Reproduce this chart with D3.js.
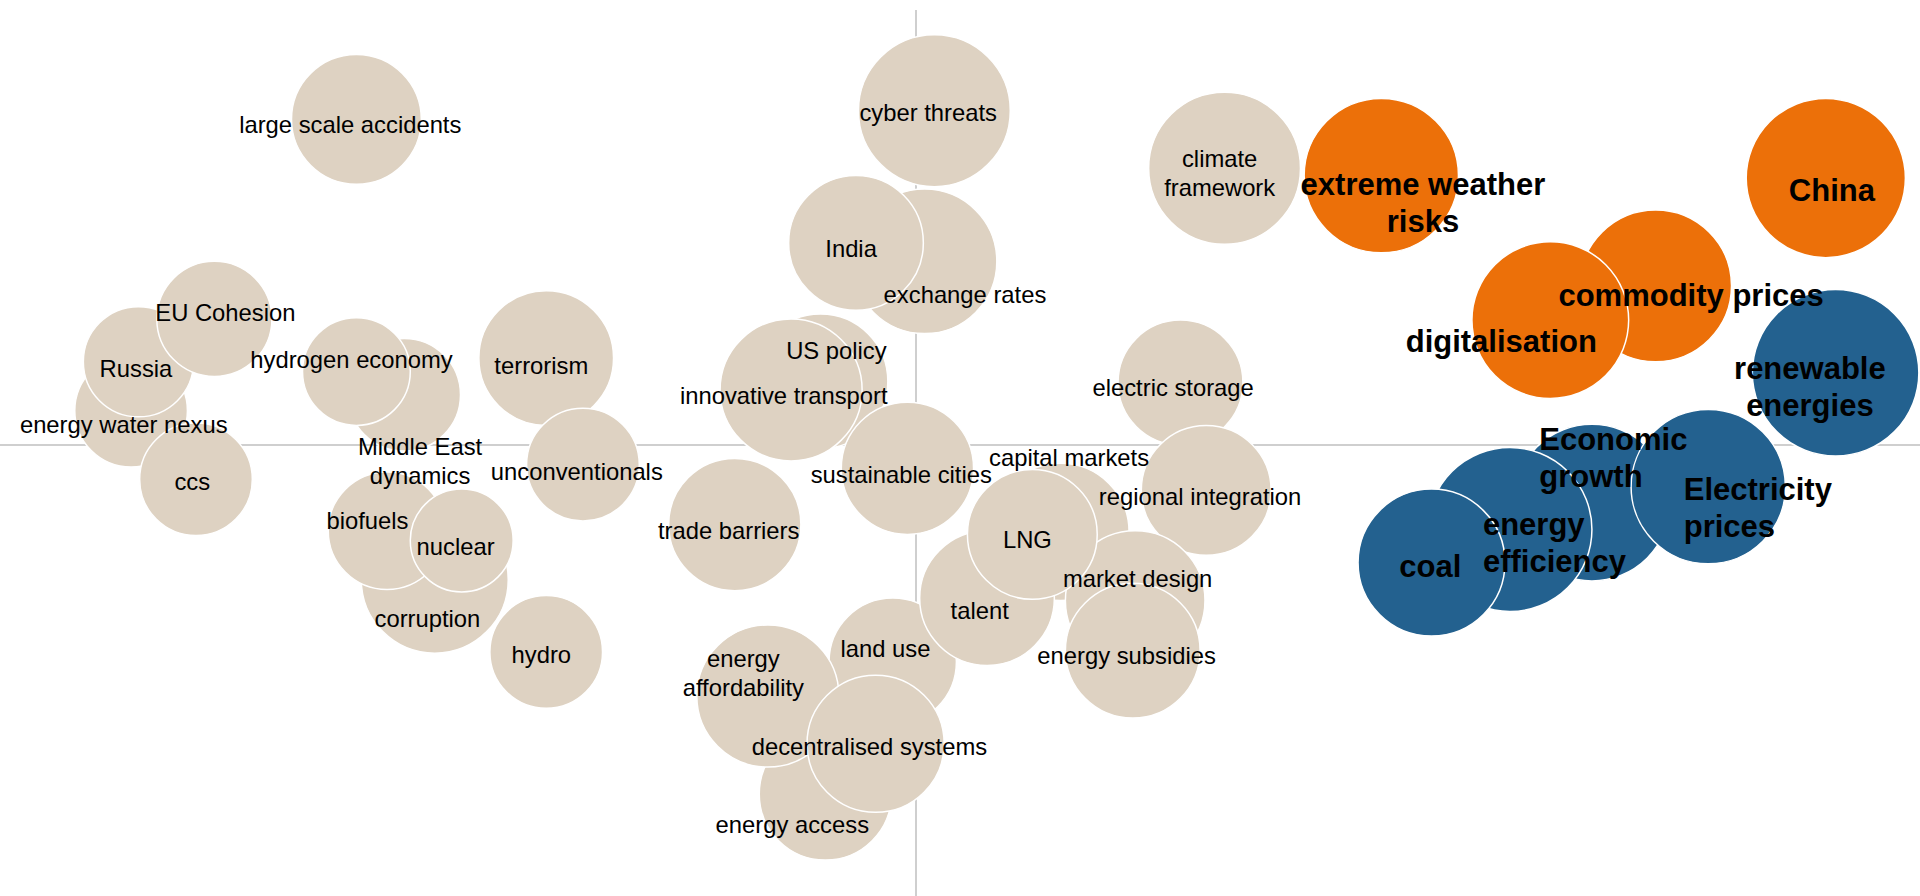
<!DOCTYPE html>
<html><head><meta charset="utf-8">
<script src="https://cdn.jsdelivr.net/npm/d3@7"></script>
<style>html,body{margin:0;padding:0;background:#fff;overflow:hidden}svg{display:block}</style>
</head><body><svg id="c" width="1920" height="896"></svg>
<script>
// Items in drawing order (back to front)
const names = ["large scale accidents","cyber threats","exchange rates","India","US policy","innovative transport","sustainable cities",
"climate\nframework","extreme weather\nrisks","China","commodity prices","digitalisation","renewable\nenergies",
"Economic\ngrowth","energy\nefficiency","coal","Electricity\nprices",
"energy water nexus","Russia","EU Cohesion","ccs","Middle East\ndynamics","hydrogen economy","terrorism","unconventionals",
"corruption","biofuels","nuclear","hydro","trade barriers","electric storage","regional integration","capital markets",
"land use","talent","market design","LNG","energy subsidies","energy access","energy\naffordability","decentralised systems"];
const groups = ["n","n","n","n","n","n","n","n","o","o","o","o","b","b","b","b","b",
"n","n","n","n","n","n","n","n","n","n","n","n","n","n","n","n","n","n","n","n","n","n","n","n"];
// uncertainty (x) and impact (y), bubble size
const xVals = [-4.57,0.15,0.07,-0.49,-0.78,-1.02,-0.07,2.52,3.80,7.43,6.04,5.18,7.51,5.52,4.85,4.21,6.47,
-6.41,-6.35,-5.73,-5.88,-4.18,-4.57,-3.02,-2.72,-3.93,-4.32,-3.71,-3.02,-1.48,2.16,2.37,1.18,-0.19,0.58,1.79,0.95,1.77,-0.74,-1.21,-0.33];
const yVals = [2.66,2.73,1.50,1.65,0.52,0.45,-0.19,2.26,2.20,2.18,1.30,1.02,0.59,-0.47,-0.69,-0.96,-0.34,
0.28,0.68,1.03,-0.28,0.41,0.60,0.71,-0.16,-1.10,-0.70,-0.78,-1.69,-0.65,0.51,-0.37,-0.71,-1.77,-1.25,-1.27,-0.73,-1.68,-2.85,-2.05,-2.44];
const sizes = [53,62,59,55,55,58,54,62,63,65,62,64,68,64,67,60,63,
46,45,47,46,46,44,55,46,60,48,42,46,54,51,53,56,52,55,57,53,55,54,58,56];
// label anchor positions
const labelX = [-4.62,0.10,0.40,-0.53,-0.65,-1.08,-0.12,2.48,4.14,7.48,6.33,4.78,7.30,5.09,4.63,4.20,6.27,
-6.47,-6.37,-5.64,-5.91,-4.05,-4.61,-3.06,-2.77,-3.99,-4.48,-3.76,-3.06,-1.53,2.10,2.32,1.25,-0.25,0.52,1.81,0.91,1.72,-1.01,-1.41,-0.38];
const labelY = [2.62,2.71,1.23,1.60,0.77,0.40,-0.24,2.22,1.98,2.08,1.22,0.85,0.48,-0.10,-0.80,-0.99,-0.51,
0.17,0.62,1.08,-0.30,-0.13,0.70,0.65,-0.22,-1.42,-0.62,-0.83,-1.71,-0.70,0.47,-0.42,-0.10,-1.66,-1.35,-1.09,-0.77,-1.72,-3.10,-1.86,-2.46];
const labelAlign = names.map(n => (n==="Economic\ngrowth"||n==="energy\nefficiency"||n==="Electricity\nprices") ? "start" : "middle");

const colors = {n:"#DED2C2", o:"#EC7009", b:"#23618F"};

const svg = d3.select("#c");
const unit = 122.45;
const x = d3.scaleLinear().domain([-8,8]).range([916-8*unit, 916+8*unit]);
const y = d3.scaleLinear().domain([-4,4]).range([445+4*unit, 445-4*unit]);
const r = d3.scaleLinear().domain([0,100]).range([0,unit]);

// axes
svg.append("line").attr("x1",x(0)).attr("x2",x(0)).attr("y1",10).attr("y2",896)
  .attr("stroke","#BFBFBF").attr("stroke-width",1.5);
svg.append("line").attr("x1",0).attr("x2",1920).attr("y1",y(0)).attr("y2",y(0))
  .attr("stroke","#BFBFBF").attr("stroke-width",1.5);

const data = names.map((n,i)=>({name:n,g:groups[i],x:xVals[i],y:yVals[i],s:sizes[i],lx:labelX[i],ly:labelY[i],a:labelAlign[i]}));

svg.append("g").selectAll("circle").data(data).join("circle")
  .attr("cx",d=>x(d.x)).attr("cy",d=>y(d.y)).attr("r",d=>r(d.s))
  .attr("fill",d=>colors[d.g]).attr("stroke","#fff").attr("stroke-width",1.5);

const lab = svg.append("g").selectAll("text").data(data).join("text")
  .attr("text-anchor",d=>d.a)
  .attr("font-family","Liberation Sans, Arial, sans-serif")
  .attr("font-weight",d=>d.g==="n"?"normal":"bold")
  .attr("font-size",d=>d.g==="n"?"23.8px":"31px")
  .attr("fill","#000");
lab.each(function(d){
  const lines = d.name.split("\n");
  const lh = d.g==="n"?29:37;
  const t = d3.select(this);
  lines.forEach((ln,k)=>{
    t.append("tspan").attr("x",x(d.lx))
     .attr("y",y(d.ly)+(k-(lines.length-1)/2)*lh)
     .attr("dy","0.35em").text(ln);
  });
});
</script></body></html>
